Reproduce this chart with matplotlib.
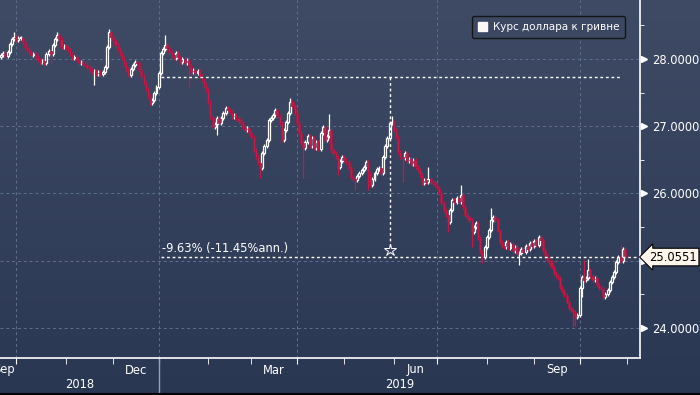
import numpy as np
import pandas as pd
import matplotlib
matplotlib.use('Agg')
import matplotlib.pyplot as plt
import matplotlib.transforms as mtransforms
from matplotlib.patches import Patch
from matplotlib.lines import Line2D

# daily USD/UAH closes, trading days from 2018-09-20
first_open = 28.03
closes = [
    28.06, 28.09, 28.05, 28.10, 28.22, 28.30, 28.33, 28.28, 28.31, 28.31,
    28.25, 28.18, 28.13, 28.10, 28.06, 28.08, 28.03, 27.99, 27.96, 27.97,
    27.94, 28.07, 28.12, 28.08, 28.21, 28.30, 28.36, 28.30, 28.18, 28.20,
    28.16, 28.13, 28.08, 28.01, 28.03, 27.97, 27.94, 27.96, 27.92, 27.91,
    27.86, 27.83, 27.80, 27.82, 27.78, 27.80, 27.77, 27.81, 27.88, 28.18,
    28.40, 28.33, 28.28, 28.21, 28.15, 28.08, 28.01, 27.93, 27.85, 27.76,
    27.85, 27.91, 27.96, 27.94, 27.84, 27.74, 27.64, 27.55, 27.45, 27.35,
    27.39, 27.50, 27.58, 27.79, 28.09, 28.15, 28.21, 28.17, 28.10, 28.06,
    28.02, 28.09, 28.03, 27.96, 28.00, 27.94, 27.99, 27.90, 27.81, 27.83,
    27.79, 27.82, 27.75, 27.69, 27.62, 27.54, 27.36, 27.14, 26.99, 27.03,
    27.12, 27.05, 27.12, 27.20, 27.27, 27.24, 27.21, 27.14, 27.16, 27.12,
    27.08, 27.05, 26.98, 26.94, 26.98, 26.90, 26.84, 26.65, 26.55, 26.45,
    26.38, 26.60, 26.70, 26.80, 27.09, 27.12, 27.17, 27.24, 27.15, 27.05,
    26.80, 26.94, 27.06, 27.20, 27.36, 27.30, 27.20, 27.05, 26.90, 26.75,
    26.68, 26.77, 26.85, 26.70, 26.82, 26.68, 26.76, 26.66, 26.90, 26.99,
    26.80, 26.85, 26.95, 26.65, 26.60, 26.54, 26.39, 26.48, 26.54, 26.50,
    26.47, 26.38, 26.25, 26.22, 26.20, 26.26, 26.30, 26.35, 26.39, 26.47,
    26.30, 26.13, 26.22, 26.30, 26.36, 26.38, 26.30, 26.54, 26.70, 26.83,
    27.05, 27.06, 26.95, 26.84, 26.62, 26.55, 26.53, 26.60, 26.48, 26.52,
    26.44, 26.50, 26.40, 26.35, 26.28, 26.16, 26.20, 26.17, 26.22, 26.17,
    26.15, 26.13, 26.08, 26.01, 25.86, 25.76, 25.68, 25.58, 25.75, 25.90,
    25.88, 25.93, 25.87, 25.98, 25.80, 25.68, 25.65, 25.61, 25.43, 25.50,
    25.56, 25.34, 25.13, 25.05, 25.20, 25.35, 25.46, 25.61, 25.65, 25.60,
    25.46, 25.28, 25.22, 25.20, 25.28, 25.19, 25.25, 25.15, 25.20, 25.10,
    25.12, 25.18, 25.13, 25.22, 25.17, 25.27, 25.22, 25.30, 25.24, 25.35,
    25.31, 25.16, 25.09, 25.03, 24.98, 24.91, 24.82, 24.78, 24.74, 24.61,
    24.55, 24.49, 24.39, 24.30, 24.27, 24.24, 24.16, 24.20, 24.59, 24.76,
    24.72, 24.74, 24.86, 24.78, 24.71, 24.74, 24.64, 24.60, 24.59, 24.46,
    24.50, 24.57, 24.68, 24.76, 24.83, 24.98, 25.06, 25.00, 25.18, 25.0551,
]
# long wicks (trading-day index -> price)
high_spikes = {6: 28.40, 21: 28.10, 26: 28.40, 50: 28.45, 76: 28.36, 134: 27.42,
               149: 27.02, 152: 27.18, 181: 27.15, 198: 26.39, 213: 26.13,
               227: 25.78, 231: 25.43, 270: 25.01, 272: 25.02, 287: 25.24}
low_spikes = {23: 27.94, 43: 27.61, 87: 27.58, 100: 26.87, 120: 26.23, 140: 26.23,
              156: 26.27, 164: 26.05, 170: 26.05, 186: 26.17, 207: 25.43,
              218: 25.20, 223: 24.97, 240: 24.94, 265: 24.02, 266: 24.03, 269: 24.46}

last_price = 25.0551
ref_level = 27.7276
ann_start, ann_mark, ann_end = '2019-01-02', '2019-05-30', '2019-10-28'
ann_text = '-9.63% (-11.45%ann.)'
legend_label = 'Курс доллара к гривне'
y_major = [24, 25, 26, 27, 28]
y_minor = [24.5, 25.5, 26.5, 27.5, 28.5]
month_labels = [('2018-09-01', 'Sep'), ('2018-12-01', 'Dec'), ('2019-03-01', 'Mar'),
                ('2019-06-01', 'Jun'), ('2019-09-01', 'Sep')]
quarter_starts = ['2018-10-01', '2019-01-01', '2019-04-01', '2019-07-01', '2019-10-01']
years = ['2018', '2019']

dates = pd.bdate_range('2018-09-20', periods=len(closes))
closes = np.array(closes)
opens = np.r_[first_open, closes[:-1]]
highs = np.maximum(opens, closes) + 0.03
lows = np.minimum(opens, closes) - 0.03
for k, v in high_spikes.items():
    highs[k] = v
for k, v in low_spikes.items():
    lows[k] = v
x = np.arange(len(closes))


def pos(d):
    return np.searchsorted(dates.values, np.datetime64(pd.Timestamp(d)))


fig = plt.figure(figsize=(7, 3.95), dpi=100)
# background gradient
bg = fig.add_axes([0, 0, 1, 1], zorder=-1)
grad = np.linspace(0, 1, 256)[:, None]
top = np.array([63, 75, 101]) / 255
bot = np.array([42, 55, 83]) / 255
img = top[None, None, :] * (1 - grad[:, :, None]) + bot[None, None, :] * grad[:, :, None]
bg.imshow(img, aspect='auto', extent=[0, 1, 0, 1])
bg.axis('off')

ax = fig.add_axes([0, 37 / 395, 640 / 700, 358 / 395])
ax.set_facecolor('none')
xmax = 296
ax.set_xlim(-0.5, xmax)
ax.set_ylim(23.554, 28.877)

# grid
qpos = [pos(d) for d in quarter_starts]
ax.set_xticks(qpos)
mstarts = pd.date_range('2018-09-01', '2019-11-01', freq='MS')
ax.set_xticks([pos(d) for d in mstarts if pos(d) > 0], minor=True)
ax.set_yticks(y_major)
ax.set_yticks(y_minor, minor=True)
ax.grid(True, which='major', color='#5f6f8c', ls=(0, (3, 3)), lw=0.7)
ax.set_axisbelow(True)

# candles
up = closes >= opens
wick_col = np.where(up, 'white', '#c0194a')
ax.vlines(x, lows, highs, colors=wick_col, lw=0.9, zorder=3)
body_lo = np.minimum(opens, closes)
body_h = np.maximum(np.abs(closes - opens), 0.01)
ax.bar(x[up], body_h[up], bottom=body_lo[up], width=0.9, facecolor='#36435e',
       edgecolor='white', lw=0.9, zorder=4)
ax.bar(x[~up], body_h[~up], bottom=body_lo[~up], width=0.95, facecolor='#cf1745',
       edgecolor='#a01a45', lw=0.6, zorder=4)

# percent-change annotation
i0, im, i1 = pos(ann_start), pos(ann_mark), pos(ann_end)
dot = (0, (2, 2))
ax.plot([i0, i1], [ref_level, ref_level], color='white', ls=dot, lw=1, zorder=5)
ax.plot([i0, xmax], [last_price, last_price], color='white', ls=dot, lw=1, zorder=5)
ax.plot([im, im], [ref_level, last_price + 0.12], color='white', ls=dot, lw=1, zorder=5)
ax.plot([im], [last_price + 0.1], marker='*', ms=9, mfc='none', mec='white', mew=0.7, zorder=5)
ax.text(i0 + 0.5, last_price + 0.03, ann_text, color='white', fontsize=8.3,
        va='bottom', ha='left', zorder=6)

# axes styling
for s in ['left', 'top']:
    ax.spines[s].set_visible(False)
ax.spines['bottom'].set_color('white')
ax.spines['right'].set_color('white')
ax.spines['bottom'].set_linewidth(1.2)
ax.spines['right'].set_linewidth(1.2)
ax.yaxis.tick_right()
ax.tick_params(axis='y', which='major', length=0, pad=9, labelcolor='white', labelsize=8.3)
ax.tick_params(axis='y', which='minor', length=3, color='white', direction='out')
ax.tick_params(axis='x', which='both', length=4, color='white', direction='out',
               labelbottom=False)
# the 25 label sits under the last-price tag
ax.set_yticklabels(['' if abs(v - last_price) < 0.3 else f'{v:.4f}' for v in y_major])
ytrans = mtransforms.blended_transform_factory(ax.transAxes, ax.transData)
tri_trans = mtransforms.offset_copy(ytrans, fig=fig, x=4, y=0, units='dots')
ax.plot([1.0] * len(y_major), y_major, ls='none', marker='>', ms=5, color='white',
        transform=tri_trans, clip_on=False)

# last price tag
tag_trans = mtransforms.offset_copy(ytrans, fig=fig, x=9, y=0, units='dots')
ax.text(1.0, last_price, f'{last_price:.4f}', transform=tag_trans, color='black',
        fontsize=8.3, va='center', ha='left', zorder=10, clip_on=False,
        bbox=dict(boxstyle='larrow,pad=0.2', fc='#fff7ec', ec='black', lw=0.8))

# month and year labels
xtrans = mtransforms.blended_transform_factory(ax.transData, ax.transAxes)
for d, lab in month_labels:
    ts = pd.Timestamp(d)
    mid = (pos(ts) + pos(ts + pd.offsets.MonthBegin(1))) / 2
    if mid < 5:
        mid = 1.5
    ax.text(mid, -12 / 358, lab, transform=xtrans, color='white', fontsize=8.3,
            ha='center', va='center')
jan = pos('2019-01-01')
ax.text((0 + jan) / 2, -27 / 358, years[0], transform=xtrans, color='white',
        fontsize=8.3, ha='center', va='center')
ax.text((jan + xmax) / 2, -27 / 358, years[1], transform=xtrans, color='white',
        fontsize=8.3, ha='center', va='center')
ax.plot([jan, jan], [0, -37 / 358], transform=xtrans, color='#9aa2b0', lw=1, clip_on=False)

# legend
leg = ax.legend(handles=[Patch(facecolor='#fff7f5', edgecolor='#fff7f5')],
                labels=[legend_label], loc='upper right',
                bbox_to_anchor=(630 / 640, 1 - 11 / 358), fontsize=7.5,
                labelcolor='white', facecolor='#3c4862', edgecolor='#151515',
                framealpha=1, fancybox=True, handlelength=0.9, handleheight=0.9,
                handletextpad=0.5, borderpad=0.55)
leg.get_frame().set_linewidth(1.0)

fig.add_artist(Line2D([0, 1], [0.002, 0.002], transform=fig.transFigure, color='black', lw=1.5))

fig.savefig('out.png', dpi=100)
